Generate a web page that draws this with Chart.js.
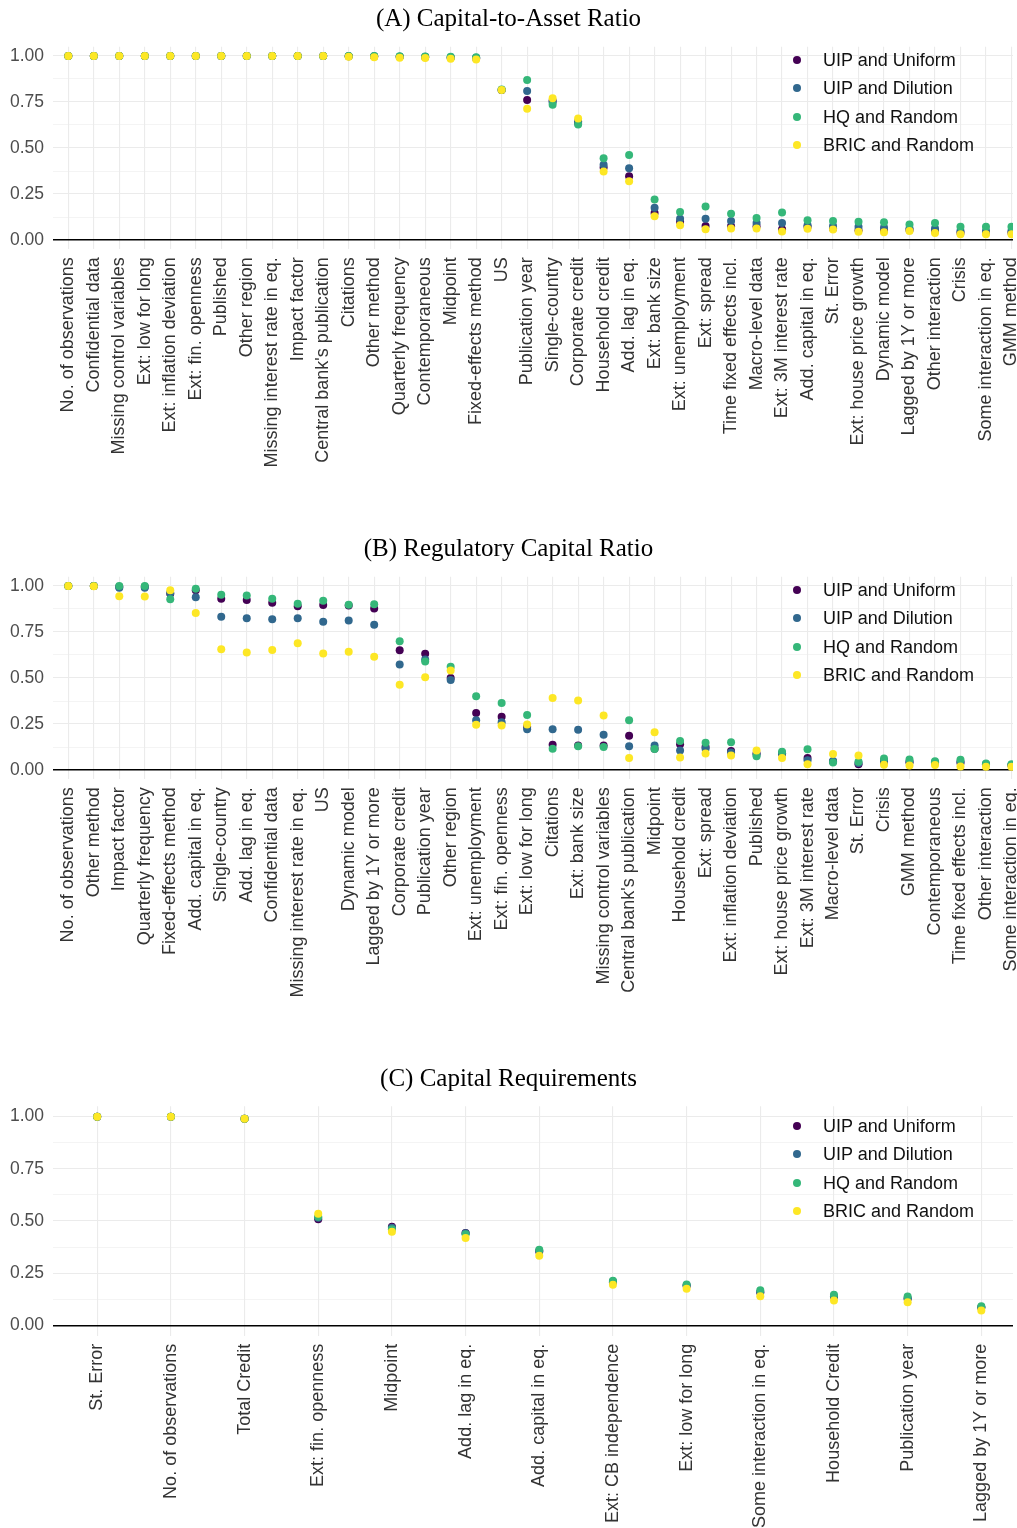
<!DOCTYPE html>
<html>
<head>
<meta charset="utf-8">
<script src="https://cdn.jsdelivr.net/npm/chart.js@4.4.1/dist/chart.umd.min.js"></script>
<style>
  body { margin: 0; background: #fff; }
  #wrap { position: relative; width: 1017px; height: 1528px; overflow: hidden; }
  canvas { position: absolute; left: 0; }
  .legend { position: absolute; left: 0; top: 0; font-family: "Liberation Sans", Arial, sans-serif; font-size: 18px; color: #111; }
  .legend div { position: absolute; white-space: nowrap; line-height: 20px; }
  .legend span.dot { position: absolute; width: 8px; height: 8px; border-radius: 50%; }
</style>
</head>
<body>
<div id="wrap">
  <canvas id="chartA" width="1017" height="530" style="top:0px"></canvas>
  <canvas id="chartB" width="1017" height="530" style="top:530px"></canvas>
  <canvas id="chartC" width="1017" height="468" style="top:1060px"></canvas>
</div>
<script>
// ===== DATA =====
const seriesNames = ["UIP and Uniform", "UIP and Dilution", "HQ and Random", "BRIC and Random"];
const seriesColors = ["#440154", "#31688E", "#35B779", "#FDE725"];
const yMajorTicks = [0, 0.25, 0.5, 0.75, 1];
const yMinorTicks = [0.125, 0.375, 0.625, 0.875];

// (A) Capital-to-Asset Ratio
const catsA = ["No. of observations", "Confidential data", "Missing control variables", "Ext: low for long",
  "Ext: inflation deviation", "Ext: fin. openness", "Published", "Other region", "Missing interest rate in eq.",
  "Impact factor", "Central bank's publication", "Citations", "Other method", "Quarterly frequency",
  "Contemporaneous", "Midpoint", "Fixed-effects method", "US", "Publication year", "Single-country",
  "Corporate credit", "Household credit", "Add. lag in eq.", "Ext: bank size", "Ext: unemployment",
  "Ext: spread", "Time fixed effects incl.", "Macro-level data", "Ext: 3M interest rate", "Add. capital in eq.",
  "St. Error", "Ext: house price growth", "Dynamic model", "Lagged by 1Y or more", "Other interaction",
  "Crisis", "Some interaction in eq.", "GMM method"];
const uipUniformA = [1, 1, 1, 1, 1, 1, 1, 1, 1, 1, 0.999, 0.998, 0.997, 0.995, 0.993, 0.99, 0.987, 0.815,
  0.76, 0.756, 0.636, 0.394, 0.346, 0.147, 0.099, 0.077, 0.075, 0.075, 0.059, 0.072, 0.063, 0.054, 0.052,
  0.055, 0.05, 0.04, 0.04, 0.04];
const uipDilutionA = [1, 1, 1, 1, 1, 1, 1, 1, 1, 1, 0.999, 0.998, 0.998, 0.996, 0.995, 0.992, 0.99, 0.815,
  0.81, 0.75, 0.645, 0.409, 0.39, 0.176, 0.116, 0.116, 0.104, 0.093, 0.093, 0.081, 0.077, 0.072, 0.068,
  0.063, 0.063, 0.05, 0.05, 0.05];
const hqRandomA = [1, 1, 1, 1, 1, 1, 1, 1, 1, 1, 1, 1, 0.999, 0.998, 0.997, 0.995, 0.993, 0.818,
  0.869, 0.735, 0.627, 0.444, 0.462, 0.22, 0.152, 0.183, 0.143, 0.12, 0.15, 0.108, 0.104, 0.1, 0.097,
  0.084, 0.093, 0.072, 0.072, 0.072];
const bricRandomA = [1, 1, 1, 1, 1, 1, 1, 1, 1, 1, 0.999, 0.995, 0.993, 0.99, 0.988, 0.985, 0.981, 0.815,
  0.713, 0.77, 0.66, 0.373, 0.319, 0.129, 0.081, 0.059, 0.063, 0.063, 0.047, 0.061, 0.057, 0.045, 0.043,
  0.05, 0.039, 0.032, 0.032, 0.032];

// (B) Regulatory Capital Ratio
const catsB = ["No. of observations", "Other method", "Impact factor", "Quarterly frequency",
  "Fixed-effects method", "Add. capital in eq.", "Single-country", "Add. lag in eq.", "Confidential data",
  "Missing interest rate in eq.", "US", "Dynamic model", "Lagged by 1Y or more", "Corporate credit",
  "Publication year", "Other region", "Ext: unemployment", "Ext: fin. openness", "Ext: low for long",
  "Citations", "Ext: bank size", "Missing control variables", "Central bank's publication", "Midpoint",
  "Household credit", "Ext: spread", "Ext: inflation deviation", "Published", "Ext: house price growth",
  "Ext: 3M interest rate", "Macro-level data", "St. Error", "Crisis", "GMM method", "Contemporaneous",
  "Time fixed effects incl.", "Other interaction", "Some interaction in eq."];
const uipUniformB = [1, 1, 0.995, 0.995, 0.958, 0.977, 0.93, 0.923, 0.909, 0.89, 0.896, 0.894, 0.878,
  0.65, 0.631, 0.5, 0.31, 0.289, 0.235, 0.138, 0.134, 0.134, 0.186, 0.116, 0.14, 0.125, 0.104, 0.09,
  0.09, 0.066, 0.047, 0.032, 0.045, 0.042, 0.04, 0.04, 0.03, 0.026];
const uipDilutionB = [1, 1, 0.99, 0.99, 0.962, 0.939, 0.833, 0.824, 0.819, 0.824, 0.806, 0.812, 0.789,
  0.573, 0.6, 0.489, 0.271, 0.26, 0.222, 0.222, 0.219, 0.192, 0.129, 0.134, 0.106, 0.116, 0.095, 0.084,
  0.09, 0.054, 0.05, 0.039, 0.05, 0.045, 0.042, 0.045, 0.032, 0.028];
const hqRandomB = [1, 1, 1, 1, 0.928, 0.984, 0.952, 0.948, 0.93, 0.903, 0.919, 0.898, 0.901,
  0.7, 0.59, 0.561, 0.401, 0.364, 0.299, 0.116, 0.129, 0.125, 0.271, 0.115, 0.158, 0.149, 0.151, 0.075,
  0.099, 0.113, 0.041, 0.045, 0.063, 0.057, 0.048, 0.056, 0.036, 0.032];
const bricRandomB = [1, 0.998, 0.944, 0.943, 0.977, 0.853, 0.656, 0.638, 0.652, 0.688, 0.633, 0.642, 0.616,
  0.464, 0.504, 0.541, 0.246, 0.242, 0.247, 0.391, 0.378, 0.296, 0.065, 0.206, 0.068, 0.09, 0.079, 0.106,
  0.066, 0.032, 0.088, 0.079, 0.029, 0.025, 0.027, 0.02, 0.018, 0.018];

// (C) Capital Requirements
const catsC = ["St. Error", "No. of observations", "Total Credit", "Ext: fin. openness", "Midpoint",
  "Add. lag in eq.", "Add. capital in eq.", "Ext: CB independence", "Ext: low for long",
  "Some interaction in eq.", "Household Credit", "Publication year", "Lagged by 1Y or more"];
const uipUniformC = [1, 1, 0.99, 0.508, 0.472, 0.443, 0.354, 0.207, 0.19, 0.158, 0.137, 0.128, 0.085];
const uipDilutionC = [1, 1, 0.99, 0.516, 0.468, 0.441, 0.358, 0.21, 0.192, 0.16, 0.14, 0.13, 0.087];
const hqRandomC = [1, 1, 0.99, 0.52, 0.46, 0.437, 0.362, 0.214, 0.196, 0.168, 0.147, 0.138, 0.092];
const bricRandomC = [1, 1, 0.99, 0.535, 0.448, 0.418, 0.334, 0.195, 0.176, 0.139, 0.119, 0.111, 0.071];

// ===== CHARTS =====
const sans = "'Liberation Sans', Arial, sans-serif";
const serif = "'Liberation Serif', 'Times New Roman', serif";

function makePanel(id, title, cats, series, layout) {
  const datasets = series.map((vals, k) => ({
    label: seriesNames[k],
    data: vals.map((v, i) => ({ x: i, y: v })),
    backgroundColor: seriesColors[k],
    borderWidth: 0,
    pointRadius: 4,
    pointHoverRadius: 4,
    order: series.length - k   // yellow drawn on top
  }));

  return new Chart(document.getElementById(id), {
    type: "scatter",
    data: { datasets },
    options: {
      responsive: false,
      animation: false,
      devicePixelRatio: 1,
      layout: { padding: 0 },
      plugins: {
        legend: { display: false },
        tooltip: { enabled: false },
        title: {
          display: true,
          text: title,
          color: "#000",
          font: { family: serif, size: 25, weight: "normal" },
          padding: { top: 4, bottom: layout.titleBottom }
        }
      },
      scales: {
        x: {
          type: "linear",
          min: -0.6,
          max: layout.xMax,
          afterBuildTicks: s => { s.ticks = cats.map((c, i) => ({ value: i })); },
          afterFit: s => {
            s.height = layout.xHeight;
            s.paddingLeft = 0;
            s.paddingRight = 0;
          },
          ticks: {
            autoSkip: false,
            minRotation: 90,
            maxRotation: 90,
            padding: 8,
            color: "#333",
            font: { family: sans, size: 18 },
            callback: v => cats[v]
          },
          grid: { color: "#ebebeb", lineWidth: 1.1, drawTicks: false },
          border: { display: false }
        },
        y: {
          min: -0.05,
          max: 1.05,
          afterBuildTicks: s => {
            s.ticks = yMajorTicks.concat(yMinorTicks).sort((a, b) => a - b).map(v => ({ value: v }));
          },
          afterFit: s => {
            s.width = 53;
            s.paddingTop = 0;
            s.paddingBottom = 0;
          },
          ticks: {
            padding: 9,
            color: "#4d4d4d",
            font: { family: sans, size: 17.5 },
            callback: v => yMajorTicks.includes(v) ? v.toFixed(2) : ""
          },
          grid: {
            drawTicks: false,
            color: c => c.tick && c.tick.value === 0 ? "#000" : "#ebebeb",
            lineWidth: c => {
              if (!c.tick) return 1;
              if (c.tick.value === 0) return 1.6;
              return yMajorTicks.includes(c.tick.value) ? 1.1 : 0.55;
            }
          },
          border: { display: false }
        }
      }
    }
  });
}

makePanel("chartA", "(A) Capital-to-Asset Ratio", catsA,
  [uipUniformA, uipDilutionA, hqRandomA, bricRandomA],
  { xMax: 37.06, xHeight: 280.7, titleBottom: 12.7 });
makePanel("chartB", "(B) Regulatory Capital Ratio", catsB,
  [uipUniformB, uipDilutionB, hqRandomB, bricRandomB],
  { xMax: 37.06, xHeight: 280.7, titleBottom: 12.7 });
makePanel("chartC", "(C) Capital Requirements", catsC,
  [uipUniformC, uipDilutionC, hqRandomC, bricRandomC],
  { xMax: 12.43, xHeight: 192.2, titleBottom: 12.2 });

// ===== LEGENDS =====
const legendTops = [60, 590, 1126];
const wrap = document.getElementById("wrap");
legendTops.forEach(top => {
  const box = document.createElement("div");
  box.className = "legend";
  seriesNames.forEach((name, k) => {
    const cy = top + k * 28.3;
    const dot = document.createElement("span");
    dot.className = "dot";
    dot.style.left = "793px";
    dot.style.top = (cy - 4) + "px";
    dot.style.background = seriesColors[k];
    box.appendChild(dot);
    const txt = document.createElement("div");
    txt.textContent = name;
    txt.style.left = "823px";
    txt.style.top = (cy - 10) + "px";
    box.appendChild(txt);
  });
  wrap.appendChild(box);
});
</script>
</body>
</html>
